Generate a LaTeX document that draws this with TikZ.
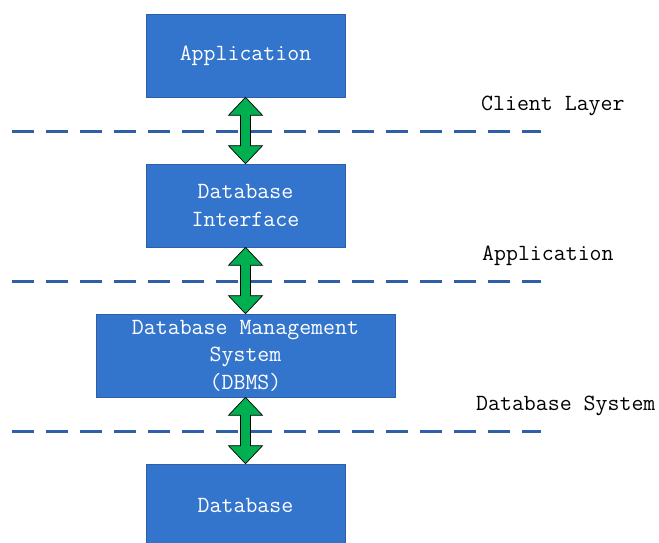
\documentclass[tikz,border=0pt]{standalone}
\usetikzlibrary{calc}
\definecolor{boxblue}{RGB}{51,117,204}
\definecolor{boxedge}{RGB}{47,95,168}
\definecolor{dashblue}{RGB}{46,95,168}
\definecolor{arrowgreen}{RGB}{0,176,80}
\tikzset{
  layerbox/.style={draw=boxedge, line width=0.6pt, fill=boxblue, text=white,
    inner sep=0pt, align=center, font=\ttfamily\fontsize{23.2}{27.5}\selectfont},
  layerline/.style={draw=dashblue, line width=3pt, dash pattern=on 22pt off 12pt},
  layerlabel/.style={anchor=west, inner sep=0pt, font=\ttfamily\fontsize{23.2}{26}\selectfont},
  dblarrow/.style={draw=black, line width=0.7pt, fill=arrowgreen, line join=miter}
}
\newcommand\twowayarrow[2]{%
  \draw[dblarrow] let \p1=(#1.south), \p2=(#2.north) in
    (\x1,\y1) -- (\x1+17pt,\y1-18pt) -- (\x1+5pt,\y1-18pt) -- (\x1+5pt,\y2+18pt)
    -- (\x1+17pt,\y2+18pt) -- (\x2,\y2) -- (\x1-17pt,\y2+18pt) -- (\x1-5pt,\y2+18pt)
    -- (\x1-5pt,\y1-18pt) -- (\x1-17pt,\y1-18pt) -- cycle;}
\begin{document}
\begin{tikzpicture}[x=1pt,y=-1pt]
\useasboundingbox (0,0) rectangle (659,542);
\node[layerbox, minimum width=199pt, minimum height=83pt] (app) at (245.5,55.5) {\raisebox{-2pt}{Application}};
\node[layerbox, minimum width=199pt, minimum height=83pt] (dbi) at (245.5,205.5) {Database\\Interface};
\node[layerbox, minimum width=299pt, minimum height=83pt] (dbms) at (245.5,355.5) {Database Management\\System\\(DBMS)};
\node[layerbox, minimum width=199pt, minimum height=83pt] (db) at (245.5,505.5) {Database};
\coordinate (l1a) at (12,131); \coordinate (l1b) at (541,131);
\coordinate (l2a) at (12,281); \coordinate (l2b) at (541,281);
\coordinate (l3a) at (12,431); \coordinate (l3b) at (541,431);
\draw[layerline] (l1a) -- (l1b);
\draw[layerline] (l2a) -- (l2b);
\draw[layerline] (l3a) -- (l3b);
\twowayarrow{app}{dbi}
\twowayarrow{dbi}{dbms}
\twowayarrow{dbms}{db}
\node[layerlabel] (t1) at (481,106) {Client Layer};
\node[layerlabel] (t2) at (482,256) {Application};
\node[layerlabel] (t3) at (476,406) {Database System};
\end{tikzpicture}
\end{document}
